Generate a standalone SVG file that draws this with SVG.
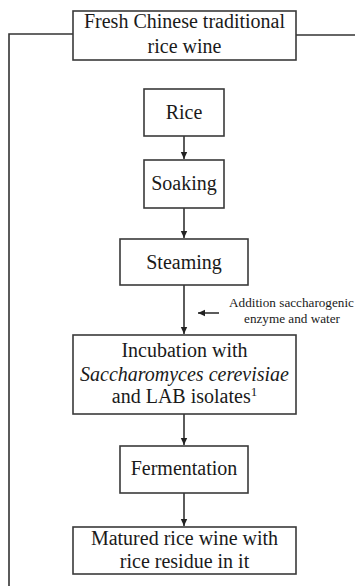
<svg xmlns="http://www.w3.org/2000/svg" width="355" height="586" viewBox="0 0 355 586">
<style>
.box{fill:#fff;stroke:#3a3a3a;stroke-width:1.6}
.ln{fill:none;stroke:#333;stroke-width:1.6}
.t{font-family:"Liberation Serif","Times New Roman",serif;font-size:20px;fill:#1a1a1a;text-anchor:middle}
.s{font-family:"Liberation Serif","Times New Roman",serif;font-size:13.2px;fill:#1a1a1a;text-anchor:middle}
</style>
<defs>
<marker id="ah" markerWidth="8" markerHeight="8" refX="7" refY="4" orient="auto" markerUnits="userSpaceOnUse">
<path d="M0,0.8 L7,4 L0,7.2 Z" fill="#222"/>
</marker>
</defs>
<rect width="355" height="586" fill="#fff"/>
<g id="connectors">
<polyline class="ln" points="73,34 9,34 9,586"/>
<line class="ln" x1="296" y1="35" x2="355" y2="35"/>
<line class="ln" x1="184" y1="136" x2="184" y2="159" marker-end="url(#ah)"/>
<line class="ln" x1="184" y1="208" x2="184" y2="238" marker-end="url(#ah)"/>
<line class="ln" x1="184" y1="285" x2="184" y2="334" marker-end="url(#ah)"/>
<line class="ln" x1="184" y1="414" x2="184" y2="445" marker-end="url(#ah)"/>
<line class="ln" x1="184" y1="493" x2="184" y2="526" marker-end="url(#ah)"/>
<line class="ln" x1="219" y1="313" x2="198" y2="313" marker-end="url(#ah)"/>
</g>
<g id="n_fresh">
<rect class="box" x="73" y="11" width="223" height="49"/>
<text class="t" x="184.5" y="28">Fresh Chinese traditional</text>
<text class="t" x="184.5" y="53">rice wine</text>
</g>
<g id="n_rice">
<rect class="box" x="144" y="89" width="80" height="47"/>
<text class="t" x="184" y="119">Rice</text>
</g>
<g id="n_soaking">
<rect class="box" x="144" y="160" width="80" height="48"/>
<text class="t" x="184" y="190">Soaking</text>
</g>
<g id="n_steaming">
<rect class="box" x="120" y="239" width="128" height="46"/>
<text class="t" x="184" y="269">Steaming</text>
</g>
<g id="n_addition">
<text class="s" x="291.5" y="307">Addition saccharogenic</text>
<text class="s" x="292" y="323">enzyme and water</text>
</g>
<g id="n_incubation">
<rect class="box" x="73" y="335" width="223" height="79"/>
<text class="t" x="184.5" y="357">Incubation with</text>
<text class="t" x="184.5" y="381" font-style="italic">Saccharomyces cerevisiae</text>
<text class="t" x="184.5" y="403">and LAB isolates<tspan font-size="13" dy="-7">1</tspan></text>
</g>
<g id="n_fermentation">
<rect class="box" x="120" y="446" width="128" height="47"/>
<text class="t" x="184" y="475">Fermentation</text>
</g>
<g id="n_matured">
<rect class="box" x="73" y="527" width="223" height="47"/>
<text class="t" x="184.5" y="545">Matured rice wine with</text>
<text class="t" x="184.5" y="568">rice residue in it</text>
</g>
</svg>
